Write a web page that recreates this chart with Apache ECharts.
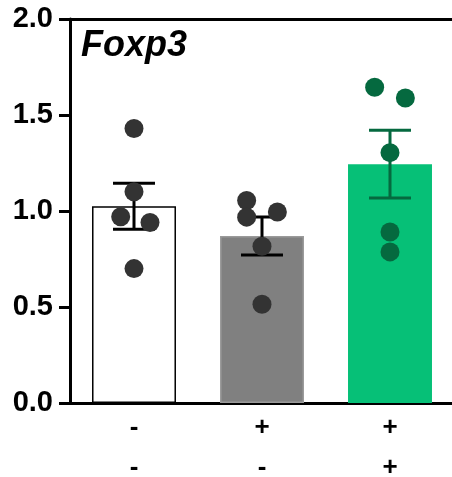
<!DOCTYPE html>
<html>
<head>
<meta charset="utf-8">
<script src="https://cdn.jsdelivr.net/npm/echarts@6/dist/echarts.min.js"></script>
<style>html,body{margin:0;padding:0;background:#fff}#c{width:452px;height:477px}</style>
</head>
<body>
<div id="c"></div>
<script>
// Category labels (two rows of +/-)
const row1 = ['-', '+', '+'];
const row2 = ['-', '-', '+'];
const yTicks = [0, 0.5, 1.0, 1.5, 2.0];
// Bar means and SEM
const means = [1.025, 0.87, 1.244];
const sems = [0.12, 0.099, 0.176];
// Individual points per group and their horizontal jitter (in category units)
const g1 = [1.43, 1.10, 0.97, 0.94, 0.70];
const j1 = [0, 0, -0.104, 0.125, 0];
const g2 = [1.055, 0.968, 0.995, 0.816, 0.514];
const j2 = [-0.12, -0.12, 0.12, 0, 0];
const g3 = [1.645, 1.589, 1.304, 0.891, 0.787];
const j3 = [-0.12, 0.12, 0, 0, 0];

const cats = row1.map((r, i) => r + '\n' + row2[i]);
const barColors = ['#ffffff', '#808080', '#06c077'];
const barBorders = ['#000000', '#9a9a9a', '#06c077'];
const barBorderW = [1.5, 1.5, 0];
const errColors = ['#000000', '#000000', '#05693f'];
const dotColors = ['#333333', '#333333', '#05693f'];
const FONT = '"Liberation Sans", Arial, sans-serif';

function pts(vals, jit, gi) {
  return vals.map((v, k) => [gi + jit[k], v]);
}

const chart = echarts.init(document.getElementById('c'), null, {renderer: 'canvas'});
chart.setOption({
  animation: false,
  backgroundColor: '#ffffff',
  grid: {left: 70, top: 19, width: 384, height: 384, containLabel: false, outerBoundsMode: 'none', show: false},
  graphic: [{
    type: 'text', left: 81, top: 28, z: 100,
    style: {text: 'Foxp3', font: 'italic bold 36px ' + FONT, fill: '#000'}
  }],
  xAxis: [{
    type: 'category', data: cats, gridIndex: 0, position: 'bottom',
    axisLine: {lineStyle: {color: '#000', width: 3}},
    axisTick: {show: false},
    axisLabel: {color: '#000', fontFamily: FONT, fontWeight: 'bold', fontSize: 26, lineHeight: 40, margin: 5}
  }, {
    type: 'value', gridIndex: 0, min: -0.5, max: 2.5, position: 'top',
    axisLine: {show: true, onZero: false, lineStyle: {color: '#000', width: 3}},
    axisTick: {show: false}, axisLabel: {show: false}, splitLine: {show: false}
  }],
  yAxis: {
    type: 'value', min: 0, max: 2, interval: 0.5,
    splitLine: {show: false},
    axisLine: {show: true, onZero: false, lineStyle: {color: '#000', width: 3}},
    axisTick: {show: true, length: 11, lineStyle: {color: '#000', width: 3}},
    axisLabel: {color: '#000', fontFamily: FONT, fontWeight: 'bold', fontSize: 29, margin: 17,
      formatter: v => yTicks.includes(v) ? v.toFixed(1) : ''}
  },
  series: [{
    type: 'bar', xAxisIndex: 0, barWidth: '65.6%', z: 2,
    data: means.map((m, i) => ({value: m, itemStyle: {color: barColors[i], borderColor: barBorders[i], borderWidth: barBorderW[i]}}))
  }, {
    type: 'custom', xAxisIndex: 0, z: 3,
    data: means.map((m, i) => [i, m, sems[i]]),
    renderItem: function (params, api) {
      const i = api.value(0), m = api.value(1), s = api.value(2);
      const hi = api.coord([i, m + s]);
      const lo = api.coord([i, m - s]);
      const hw = api.size([1, 0])[0] * 0.164;
      const st = {stroke: errColors[i], lineWidth: 3};
      return {type: 'group', children: [
        {type: 'line', shape: {x1: hi[0], y1: hi[1], x2: lo[0], y2: lo[1]}, style: st},
        {type: 'line', shape: {x1: hi[0] - hw, y1: hi[1], x2: hi[0] + hw, y2: hi[1]}, style: st},
        {type: 'line', shape: {x1: lo[0] - hw, y1: lo[1], x2: lo[0] + hw, y2: lo[1]}, style: st}
      ]};
    }
  }, {
    type: 'scatter', xAxisIndex: 1, z: 4, symbolSize: 19, itemStyle: {color: dotColors[0], opacity: 1},
    data: pts(g1, j1, 0)
  }, {
    type: 'scatter', xAxisIndex: 1, z: 4, symbolSize: 19, itemStyle: {color: dotColors[1], opacity: 1},
    data: pts(g2, j2, 1)
  }, {
    type: 'scatter', xAxisIndex: 1, z: 4, symbolSize: 19, itemStyle: {color: dotColors[2], opacity: 1},
    data: pts(g3, j3, 2)
  }]
});
</script>
</body>
</html>
